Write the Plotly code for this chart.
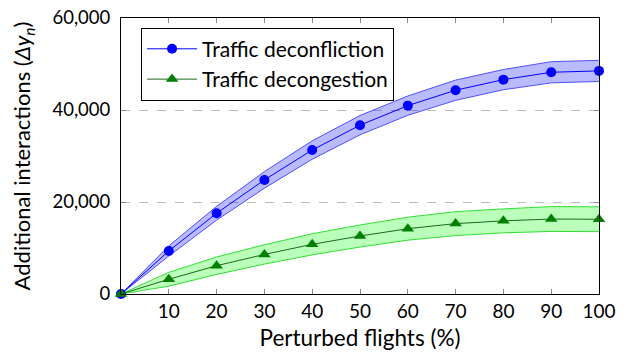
import plotly.graph_objects as go

perturbed = [0, 10, 20, 30, 40, 50, 60, 70, 80, 90, 100]
deconfliction = [0, 9350, 17550, 24800, 31300, 36700, 40950, 44300, 46600, 48200, 48500]
deconfliction_err = [0, 1100, 1500, 1800, 2000, 2100, 2100, 2200, 2200, 2300, 2300]
decongestion = [0, 3200, 6150, 8600, 10800, 12600, 14200, 15300, 15900, 16300, 16250]
decongestion_err = [0, 1500, 1900, 2100, 2300, 2400, 2500, 2600, 2600, 2700, 2700]
x_ticks = [10, 20, 30, 40, 50, 60, 70, 80, 90, 100]
y_ticks = [0, 20000, 40000, 60000]

FONT = "Lato"
fig = go.Figure()

def band(y, err, line_col, fill_col):
    lo = [a - b for a, b in zip(y, err)]
    hi = [a + b for a, b in zip(y, err)]
    fig.add_trace(go.Scatter(x=perturbed, y=lo, mode="lines",
                             line=dict(color=line_col, width=1),
                             showlegend=False, hoverinfo="skip"))
    fig.add_trace(go.Scatter(x=perturbed, y=hi, mode="lines",
                             line=dict(color=line_col, width=1),
                             fill="tonexty", fillcolor=fill_col,
                             showlegend=False, hoverinfo="skip"))

band(deconfliction, deconfliction_err, "#5050ff", "rgba(0,0,255,0.27)")
band(decongestion, decongestion_err, "#30e030", "rgba(0,255,0,0.27)")

fig.add_trace(go.Scatter(x=perturbed, y=deconfliction, mode="lines+markers",
                         name="Traffic deconfliction", cliponaxis=False,
                         line=dict(color="#0000ff", width=1),
                         marker=dict(symbol="circle", size=10, color="#0000ff")))
fig.add_trace(go.Scatter(x=perturbed, y=decongestion, mode="lines+markers",
                         name="Traffic decongestion", cliponaxis=False,
                         line=dict(color="#1a6a1a", width=1),
                         marker=dict(symbol="triangle-up", size=11, color="#008000")))

fig.update_layout(
    width=626, height=345,
    margin=dict(l=113, r=35, t=10, b=59),
    paper_bgcolor="white", plot_bgcolor="white",
    font=dict(family=FONT, size=19, color="black"),
    legend=dict(x=0.042, y=0.965, xanchor="left", yanchor="top",
                traceorder="normal", itemwidth=50,
                bordercolor="black", borderwidth=1, bgcolor="white",
                font=dict(size=21, family=FONT), tracegroupgap=0),
    xaxis=dict(range=[0, 100], tickvals=x_ticks, automargin=False,
               ticktext=[str(v) for v in x_ticks],
               ticks="inside", ticklen=5, tickcolor="#888888",
               tickfont=dict(size=19),
               showline=True, linecolor="black", linewidth=1, mirror="ticks",
               showgrid=False, zeroline=False,
               title=dict(text="Perturbed flights (%)", standoff=9,
                          font=dict(size=22.5, family=FONT))),
    yaxis=dict(range=[0, 60000], tickvals=y_ticks, automargin=False,
               ticktext=["0", "20,000", "40,000", "60,000"],
               ticks="inside", ticklen=5, tickcolor="#888888",
               tickfont=dict(size=18.5), ticklabelstandoff=6,
               ticklabeloverflow="allow",
               showline=True, linecolor="black", linewidth=1, mirror="ticks",
               showgrid=True, gridcolor="#bbbbbb", griddash="dash", gridwidth=1,
               zeroline=False,
               title=dict(text="Additional interactions (<i>Δy<sub>n</sub></i>)",
                          standoff=15, font=dict(size=22, family=FONT))),
)

fig.write_html("out.html")
